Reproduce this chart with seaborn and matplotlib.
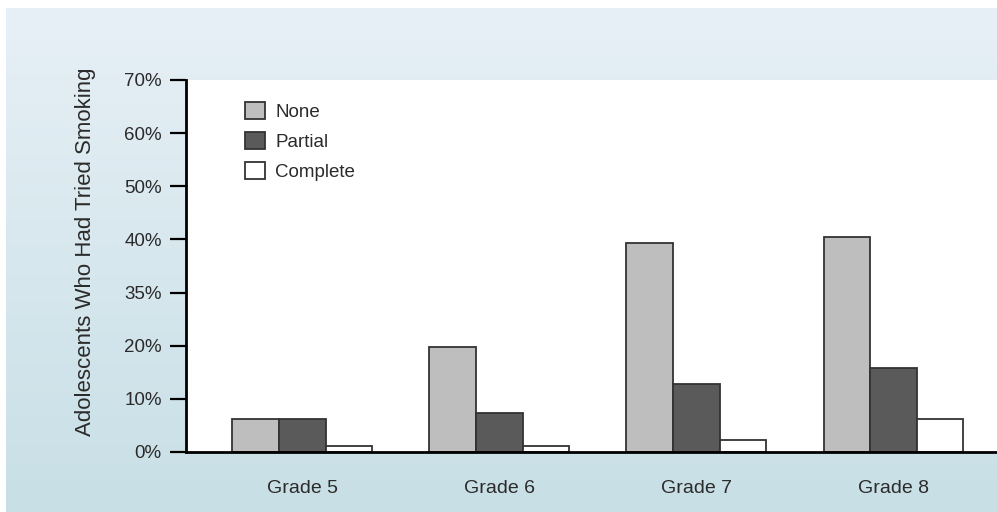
import numpy as np
import pandas as pd
import matplotlib
matplotlib.use("Agg")
import matplotlib.pyplot as plt
import seaborn as sns

grades = ["Grade 5", "Grade 6", "Grade 7", "Grade 8"]
none_vals = [6.2, 19.8, 39.4, 40.4]
partial_vals = [6.2, 7.3, 12.8, 15.8]
complete_vals = [1.2, 1.2, 2.3, 6.2]
series_names = ["None", "Partial", "Complete"]
tick_values = [0, 10, 20, 30, 40, 50, 60, 70]
tick_labels = ["0%", "10%", "20%", "35%", "40%", "50%", "60%", "70%"]
y_label = "Adolescents Who Had Tried Smoking"

df = pd.DataFrame({
    "grade": grades * 3,
    "value": none_vals + partial_vals + complete_vals,
    "series": [s for s in series_names for _ in grades],
})

sns.set_theme(style="white")
plt.rcParams["font.family"] = ["Liberation Sans", "DejaVu Sans"]
text_color = "#2b2b2b"

W, H = 997, 512
fig = plt.figure(figsize=(W / 100, H / 100), dpi=100)
fig.patch.set_facecolor("white")

# gradient background panel
bg = fig.add_axes([6 / W, 0, (W - 6) / W, (H - 8) / H], zorder=-1)
top = np.array([231, 240, 246]) / 255
bot = np.array([200, 223, 230]) / 255
t = np.linspace(0, 1, 256)[:, None]
grad = (top[None, :] * (1 - t) + bot[None, :] * t)[:, None, :]
bg.imshow(grad, aspect="auto", extent=[0, 1, 0, 1])
bg.set_axis_off()

ax = fig.add_axes([186 / W, 60 / H, (W - 186) / W, 372 / H])
ax.set_facecolor("white")

palette = {"None": "#bebebe", "Partial": "#5a5a5a", "Complete": "#ffffff"}
sns.barplot(data=df, x="grade", y="value", hue="series", hue_order=series_names,
            palette=palette, width=0.71, gap=0, edgecolor="#333333", linewidth=1.3,
            saturation=1, errorbar=None, ax=ax, zorder=2)

ax.set_ylim(0, 70)
ax.set_xlim(-0.59, 3.525)
ax.set_yticks(tick_values)
ax.set_yticklabels(tick_labels)
ax.set_xlabel("")
ax.set_ylabel(y_label, fontsize=16, color=text_color)
ax.yaxis.set_label_coords(-0.111, 0.538)

for s in ["top", "right"]:
    ax.spines[s].set_visible(False)
for s in ["left", "bottom"]:
    ax.spines[s].set_color("black")
    ax.spines[s].set_linewidth(2)
    ax.spines[s].set_zorder(3)

ax.tick_params(axis="y", which="major", direction="out", length=11.5, width=1.6,
               color="black", labelsize=13.5, labelcolor=text_color, pad=6, left=True)
ax.tick_params(axis="x", length=0, labelsize=14, labelcolor=text_color, pad=20)

leg = ax.legend(loc="upper left", bbox_to_anchor=(0.0727, 0.94), frameon=False,
                fontsize=13.5, handlelength=1.06, handleheight=1.0,
                handletextpad=0.55, labelspacing=0.6, borderpad=0, borderaxespad=0)
for txt in leg.get_texts():
    txt.set_color(text_color)

fig.savefig("out.png", dpi=100, facecolor=fig.get_facecolor())
